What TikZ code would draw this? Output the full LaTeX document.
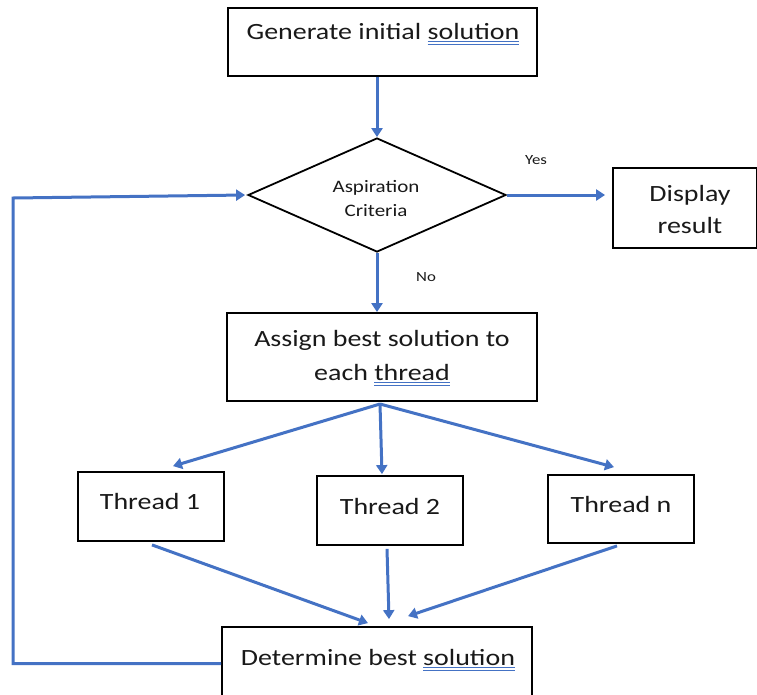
\documentclass[tikz,border=0pt]{standalone}
\usepackage{fontspec}
\setmainfont{Carlito}[FakeStretch=1.2]
\usetikzlibrary{arrows.meta,shapes.geometric}
\definecolor{flowblue}{HTML}{4472C4}
\newsavebox\sqbox
\newcommand\squ[1]{\sbox\sqbox{#1}\rlap{\textcolor{flowblue}{\rule[-2.6pt]{\wd\sqbox}{0.9pt}}}\rlap{\textcolor{flowblue}{\rule[-5.4pt]{\wd\sqbox}{0.9pt}}}\usebox\sqbox}
\begin{document}
\begin{tikzpicture}[x=1pt,y=-1pt,
  box/.style={draw=black,line width=1.8pt,inner sep=0pt},
  decision/.style={diamond,draw=black,line width=1.8pt,inner sep=0pt},
  txt/.style={font=\fontsize{23.3}{28}\selectfont,text=black!90,anchor=base,inner sep=0pt},
  smalltxt/.style={font=\fontsize{17.5}{21}\selectfont,text=black!90,anchor=base,inner sep=0pt},
  tinytxt/.style={font=\fontsize{14}{17}\selectfont,text=black!90,anchor=base,inner sep=0pt},
  flow/.style={draw=flowblue,line width=3pt,-{Triangle[length=9pt,width=11pt]}},
]
\useasboundingbox (0,0) rectangle (757,694);

% boxes
\node[box,minimum width=309pt,minimum height=68pt] (gen) at (382.5,42) {};
\node[decision,minimum width=258pt,minimum height=114pt] (dia) at (377,195) {};
\node[box,minimum width=144pt,minimum height=80pt] (disp) at (685,208) {};
\node[box,minimum width=310pt,minimum height=88pt] (assign) at (382,357) {};
\node[box,minimum width=146pt,minimum height=69pt] (t1) at (151,506.5) {};
\node[box,minimum width=146pt,minimum height=69pt] (t2) at (390,510.5) {};
\node[box,minimum width=146pt,minimum height=68pt] (tn) at (621,509) {};
\node[box,minimum width=310pt,minimum height=76pt] (det) at (377,665) {};

% texts
\node[txt] (tgen) at (383,39) {Generate initial \squ{solution}};
\node[smalltxt] (tasp) at (376,192) {Aspiration};
\node[smalltxt] (tcrit) at (376,216) {Criteria};
\node[tinytxt] (tyes) at (536,164) {Yes};
\node[tinytxt] (tno) at (426,281) {No};
\node[txt] (tdisp1) at (690,201) {Display};
\node[txt] (tdisp2) at (690,233) {result};
\node[txt] (tasg1) at (382,346) {Assign best solution to};
\node[txt] (tasg2) at (382,380) {each \squ{thread}};
\node[txt] (tt1) at (150,509) {Thread 1};
\node[txt] (tt2) at (390,514) {Thread 2};
\node[txt] (ttn) at (621,512) {Thread n};
\node[txt] (tdet) at (378,665) {Determine best \squ{solution}};

% connectors
\coordinate (fan) at (380,404);
\coordinate (loop) at (13,198);
\draw[flow] (gen.south -| dia.north) -- (dia.north);
\draw[flow] (dia.east) -- ([xshift=-7pt]dia.east -| disp.west);
\draw[flow] (dia.south) -- (dia.south |- assign.north);
\draw[flow] (fan) -- ([xshift=22pt,yshift=5pt]t1.north);
\draw[flow] (fan) -- ([xshift=-8pt,yshift=1pt]t2.north);
\draw[flow] (fan) -- ([xshift=-7pt,yshift=7pt]tn.north);
\draw[flow] ([xshift=1pt,yshift=-3pt]t1.south) -- ([xshift=-9pt,yshift=3pt]det.north);
\draw[flow] ([xshift=-3pt,yshift=-3pt]t2.south) -- ([xshift=12pt,yshift=7pt]det.north);
\draw[flow] ([xshift=-4pt,yshift=-2pt]tn.south) -- ([xshift=31pt,yshift=10pt]det.north);
\draw[flow] ([yshift=1.5pt]det.west) -| (loop) -- ([xshift=-2pt]dia.west);
\end{tikzpicture}
\end{document}
